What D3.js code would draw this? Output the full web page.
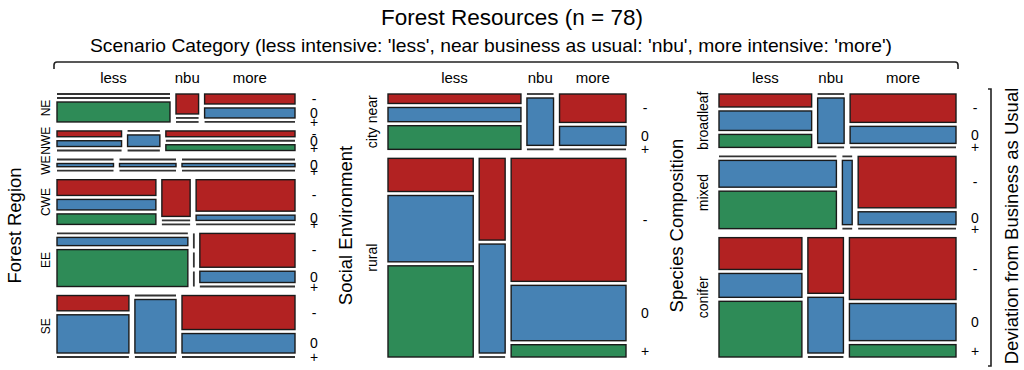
<!DOCTYPE html>
<html lang="en">
<head>
    <meta charset="UTF-8">
    <title>Forest Resources mosaic</title>
    <script src="https://d3js.org/d3.v7.min.js"></script>
    <style>
        body { margin: 0; background: white; }
        svg { display: block; font-family: "Liberation Sans", Arial, sans-serif; }
        .zero { stroke: #333; stroke-width: 1.8; fill: none; }
        .tile { stroke: #1a1a1a; stroke-width: 1.4; }
        .bracket { stroke: #222; stroke-width: 1.6; fill: none; }
    </style>
</head>
<body>
<script>
    // categories
    const scenarios = ["less", "nbu", "more"];
    const deviations = ["-", "0", "+"];
    const devColors = ["#B22222", "#4682B4", "#2E8B57"];

    const regions = ["NE", "NWE", "WE", "CWE", "EE", "SE"];
    // counts[row][scenario][deviation]
    const regionCounts = [
        [[0, 0, 5], [1, 0, 0], [2, 2, 0]],
        [[1, 1, 0], [0, 1, 0], [2, 0, 2]],
        [[0, 1, 0], [0, 1, 0], [0, 2, 0]],
        [[3, 2, 2], [2, 0, 0], [6, 1, 0]],
        [[0, 2, 9], [0, 0, 0], [6, 2, 0]],
        [[2, 5, 0], [0, 4, 0], [7, 4, 0]]
    ];

    const socials = ["city near", "rural"];
    const socialCounts = [
        [[2, 3, 5], [0, 2, 0], [3, 2, 0]],
        [[4, 8, 11], [3, 4, 0], [20, 9, 2]]
    ];

    const species = ["broadleaf", "mixed", "conifer"];
    const speciesCounts = [
        [[2, 3, 2], [0, 2, 0], [5, 3, 0]],
        [[0, 5, 7], [0, 1, 0], [8, 2, 0]],
        [[4, 3, 7], [3, 3, 0], [10, 6, 2]]
    ];

    const width = 1024, height = 370;
    const y0 = 94, y1 = 357;
    const rowGap = 9, colGap = 6, devGap = 4;

    const panels = [
        { name: "Forest Region", rows: regions, counts: regionCounts, x0: 57, x1: 295, rowFont: 12, labOff: 7 },
        { name: "Social Environment", rows: socials, counts: socialCounts, x0: 388, x1: 626, rowFont: 14, labOff: 11 },
        { name: "Species Composition", rows: species, counts: speciesCounts, x0: 719, x1: 956, rowFont: 14, labOff: 11 }
    ];

    const svg = d3.select("body").append("svg")
        .attr("width", width)
        .attr("height", height);

    svg.append("rect").attr("width", width).attr("height", height).attr("fill", "white");

    svg.append("text")
        .attr("x", 512).attr("y", 25)
        .attr("text-anchor", "middle")
        .attr("font-size", 22.5)
        .text("Forest Resources (n = 78)");

    svg.append("text")
        .attr("x", 491).attr("y", 52)
        .attr("text-anchor", "middle")
        .attr("font-size", 18.5)
        .attr("textLength", 802)
        .attr("lengthAdjust", "spacingAndGlyphs")
        .text("Scenario Category (less intensive: 'less', near business as usual: 'nbu', more intensive: 'more')");

    // top bracket
    svg.append("path").attr("class", "bracket")
        .attr("d", "M54,69 V65 Q54,62 57,62 H955 Q958,62 958,65 V69");
    // right bracket
    svg.append("path").attr("class", "bracket")
        .attr("d", "M988,89 H991 V366 H988");
    svg.append("text")
        .attr("transform", "translate(1018,226) rotate(-90)")
        .attr("text-anchor", "middle")
        .attr("font-size", 18.5)
        .text("Deviation from Business as Usual");

    function layout(p) {
        const rowTotals = p.counts.map(r => d3.sum(r, c => d3.sum(c)));
        const n = d3.sum(rowTotals);
        const yLen = d3.scaleLinear().domain([0, n])
            .range([0, (y1 - y0) - (p.counts.length - 1) * rowGap]);
        const cells = [], rows = [];
        let y = y0;
        p.counts.forEach((row, i) => {
            const h = yLen(rowTotals[i]);
            const xLen = d3.scaleLinear().domain([0, rowTotals[i]])
                .range([0, (p.x1 - p.x0) - (row.length - 1) * colGap]);
            let x = p.x0;
            row.forEach((cell, j) => {
                const ct = d3.sum(cell);
                const w = xLen(ct);
                const avail = h - (cell.length - 1) * devGap;
                const dLen = d3.scaleLinear().domain([0, ct || 1]).range([0, avail]);
                let yy = y;
                cell.forEach((v, k) => {
                    const dh = ct > 0 ? dLen(v) : avail / cell.length;
                    cells.push({ row: i, col: j, dev: k, x: x, y: yy, w: w, h: dh, v: v, empty: ct === 0 });
                    yy += dh + devGap;
                });
                x += w + colGap;
            });
            rows.push({ y: y, h: h });
            y += h + rowGap;
        });
        return { cells, rows };
    }

    panels.forEach(p => {
        const { cells, rows } = layout(p);
        const g = svg.append("g");

        g.selectAll("rect.tile")
            .data(cells.filter(d => !d.empty && d.v > 0))
            .join("rect")
            .attr("class", "tile")
            .attr("x", d => d.x).attr("y", d => d.y)
            .attr("width", d => d.w).attr("height", d => d.h)
            .attr("fill", d => devColors[d.dev]);

        // zero cells drawn as lines
        g.selectAll("line.zero")
            .data(cells.filter(d => d.empty || d.v === 0))
            .join("line")
            .attr("class", "zero")
            .attr("x1", d => d.x)
            .attr("x2", d => d.x + d.w)
            .attr("y1", d => d.y)
            .attr("y2", d => d.empty ? d.y + d.h : d.y);

        // scenario labels from first row
        g.selectAll("text.scen")
            .data(cells.filter(d => d.row === 0 && d.dev === 0))
            .join("text")
            .attr("class", "scen")
            .attr("x", d => d.x + d.w / 2)
            .attr("y", 83)
            .attr("text-anchor", "middle")
            .attr("font-size", 15)
            .text(d => scenarios[d.col]);

        // row labels
        g.selectAll("text.rowlab")
            .data(rows)
            .join("text")
            .attr("class", "rowlab")
            .attr("transform", d => `translate(${p.x0 - p.labOff},${d.y + d.h / 2}) rotate(-90)`)
            .attr("text-anchor", "middle")
            .attr("font-size", p.rowFont)
            .text((d, i) => p.rows[i]);

        // deviation labels on the right, at the last column
        const last = scenarios.length - 1;
        g.selectAll("text.devlab")
            .data(cells.filter(d => d.col === last))
            .join("text")
            .attr("class", "devlab")
            .attr("x", p.x1 + 19)
            .attr("y", d => d.y + d.h / 2)
            .attr("dy", "0.36em")
            .attr("text-anchor", "middle")
            .attr("font-size", 14)
            .text(d => deviations[d.dev]);

        // variable name
        g.append("text")
            .attr("transform", `translate(${p.x0 - 36},${(y0 + y1) / 2}) rotate(-90)`)
            .attr("text-anchor", "middle")
            .attr("font-size", 18.5)
            .text(p.name);
    });
</script>
</body>
</html>
